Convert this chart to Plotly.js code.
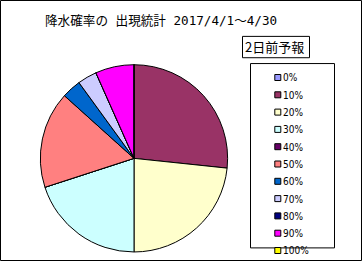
<!DOCTYPE html>
<html>
<head>
<meta charset="utf-8">
<script src="https://cdn.plot.ly/plotly-3.0.1.min.js"></script>
<style>
html,body{margin:0;padding:0;background:#fff;}
#chart{width:362px;height:269px;}
</style>
</head>
<body>
<div id="chart"></div>
<script>
// ---- data ----
var categories = ['0%','10%','20%','30%','40%','50%','60%','70%','80%','90%','100%'];
var dayCounts  = [0, 8, 7, 6, 0, 5, 1, 1, 0, 2, 0];
var sliceColors = ['#9999FF','#993366','#FFFFCC','#CCFFFF','#660066','#FF8080','#0066CC','#CCCCFF','#000080','#FF00FF','#FFFF00'];
var chartTitle = '降水確率の 出現統計 2017/4/1～4/30';
var legendTitle = '2日前予報';

var W = 362, H = 269;
function px(x){ return x / W; }
function py(y){ return 1 - y / H; }

var data = [{
  type: 'pie',
  labels: categories,
  values: dayCounts,
  sort: false,
  direction: 'clockwise',
  rotation: 0,
  textinfo: 'none',
  hoverinfo: 'none',
  marker: { colors: sliceColors, line: { color: '#000', width: 1 } },
  domain: { x: [px(37.5), px(230.5)], y: [py(259.7), py(66.7)] }
}];

var layout = {
  width: W, height: H,
  margin: { l: 0, r: 0, t: 0, b: 0 },
  paper_bgcolor: '#fff',
  showlegend: true,
  title: {
    text: chartTitle,
    x: px(45), xanchor: 'left', xref: 'paper',
    y: py(21.5), yanchor: 'middle', yref: 'paper',
    font: { family: '"DejaVu Sans Mono", "Noto Sans CJK JP", monospace', size: 12.6, color: '#000' }
  },
  legend: {
    x: px(250), xanchor: 'left', y: py(66), yanchor: 'top',
    bgcolor: 'rgba(0,0,0,0)', borderwidth: 0,
    font: { family: '"Liberation Sans Narrow", "DejaVu Sans Condensed", Arial, sans-serif', size: 10, color: '#000' },
    traceorder: 'normal'
  },
  annotations: [{
    text: legendTitle, xref: 'paper', yref: 'paper',
    x: px(243), xanchor: 'left', y: py(48), yanchor: 'middle',
    showarrow: false,
    font: { family: '"Noto Sans CJK JP", sans-serif', size: 13, color: '#000' }
  }],
  shapes: [
    { type: 'rect', xref: 'paper', yref: 'paper', x0: px(0.5), x1: px(361.5), y0: py(268.5), y1: py(0.5), line: { color: '#000', width: 1 } },
    { type: 'rect', xref: 'paper', yref: 'paper', x0: px(242.5), x1: px(309.5), y0: py(59.5), y1: py(37.5), line: { color: '#000', width: 1 } },
    { type: 'rect', xref: 'paper', yref: 'paper', x0: px(250.5), x1: px(334.5), y0: py(255.5), y1: py(65.5), line: { color: '#000', width: 1 } }
  ]
};

var gd = document.getElementById('chart');
Plotly.newPlot(gd, data, layout, { staticPlot: true, displayModeBar: false }).then(function(){
  var leg = gd.querySelector('.legend');
  if (!leg) return;
  leg.setAttribute('transform', 'translate(250,66)');
  var sb = leg.querySelector('.scrollbox');
  if (sb) sb.setAttribute('transform', 'translate(0,0)');
  var traces = leg.querySelectorAll('.traces');
  traces.forEach(function(t, i){
    t.setAttribute('transform', 'translate(-7,' + (11.5 + i * 17.3) + ')');
    t.querySelectorAll('.legendpoints path').forEach(function(p){
      p.setAttribute('d', 'M3,3H-3V-3H3Z');
      p.setAttribute('transform', 'translate(34.8,0)');
    });
  });
});
</script>
</body>
</html>
